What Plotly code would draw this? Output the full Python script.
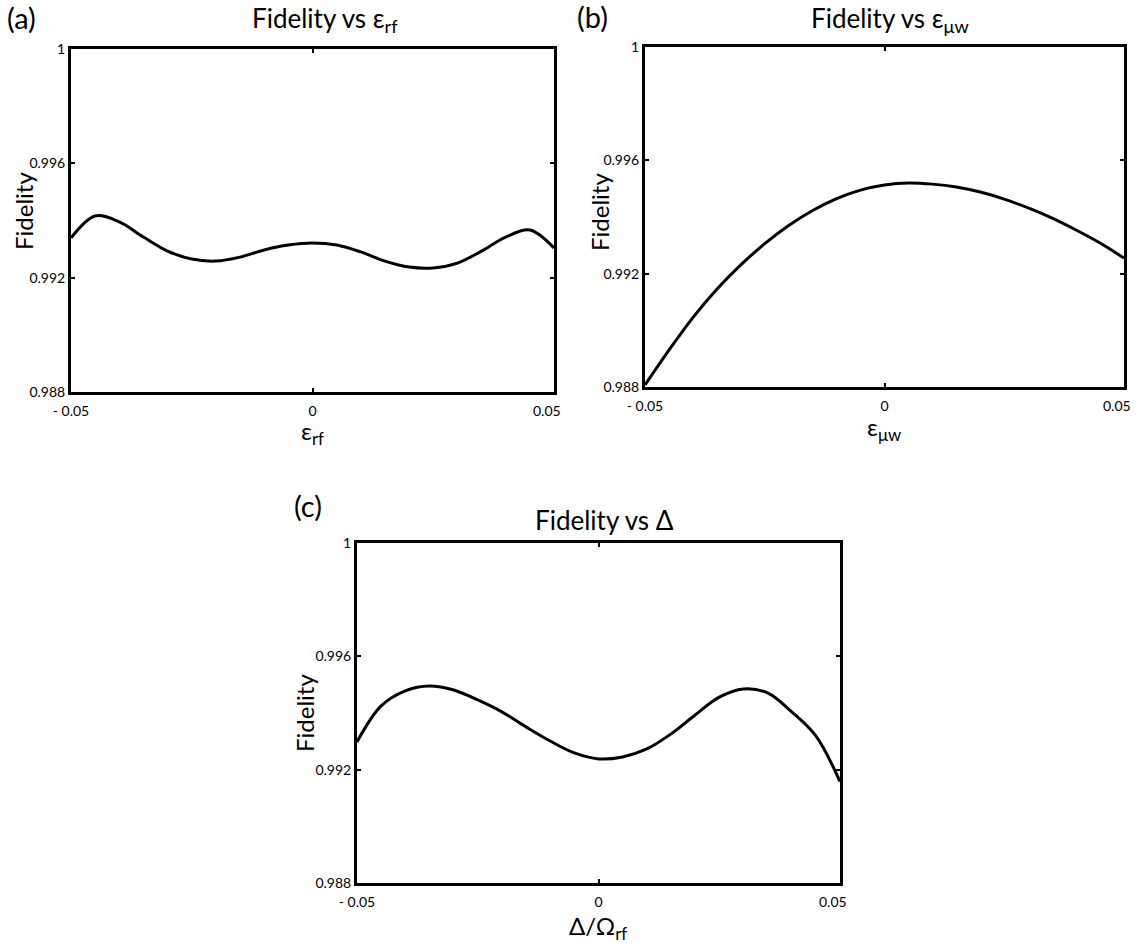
import plotly.graph_objects as go

# ---------------- data ----------------
x_vals = [-0.05, -0.045, -0.04, -0.035, -0.03, -0.025, -0.02, -0.015, -0.01, -0.005,
          0.0, 0.005, 0.01, 0.015, 0.02, 0.025, 0.03, 0.035, 0.04, 0.045, 0.05]

fid_rf = [0.99339, 0.99416, 0.99395, 0.99342, 0.99293, 0.99265, 0.99258, 0.99272, 0.99297, 0.99314,
          0.99321, 0.99314, 0.99290, 0.99258, 0.99237, 0.99234, 0.99251, 0.99293, 0.99342, 0.99367, 0.99304]

fid_mw = [0.98807, 0.98930, 0.99045, 0.99145, 0.99231, 0.99306, 0.99370, 0.99423, 0.99465, 0.99495,
          0.99513, 0.99520, 0.99516, 0.99506, 0.99488, 0.99463, 0.99432, 0.99396, 0.99354, 0.99308, 0.99255]

fid_delta = [0.99298, 0.99425, 0.99478, 0.99495, 0.99481, 0.99446, 0.99404, 0.99351, 0.99301, 0.99259,
             0.99238, 0.99245, 0.99273, 0.99326, 0.99393, 0.99456, 0.99485, 0.99471, 0.99404, 0.99319, 0.99158]

x_tickvals = [-0.05, 0, 0.05]
x_ticktext = ["- 0.05", "0", "0.05\u00a0\u00a0\u00a0\u00a0"]
y_tickvals = [0.988, 0.992, 0.996, 1.0]
y_ticktext = ["0.988", "0.992", "0.996", "1"]

panel_titles = ["Fidelity vs ε<sub>rf</sub>", "Fidelity vs ε<sub>μw</sub>", "Fidelity vs Δ"]
x_titles = ["ε<sub>rf</sub>", "ε<sub>μw</sub>", "Δ/Ω<sub>rf</sub>"]
panel_labels = ["(a)", "(b)", "(c)"]

# ---------------- layout geometry (pixels) ----------------
W, H = 1136, 948
boxes = [(71, 554, 49, 392), (645, 1124, 47, 387), (357, 840, 543, 883)]

FONT = "Lato, Open Sans, sans-serif"

fig = go.Figure()
series = [fid_rf, fid_mw, fid_delta]

def px_x(p):
    return p / W

def px_y(p):
    return 1 - p / H

for i, (ys, (l, r, t, b)) in enumerate(zip(series, boxes)):
    suffix = "" if i == 0 else str(i + 1)
    fig.add_trace(go.Scatter(x=x_vals, y=ys, mode="lines",
                             line=dict(color="black", width=3, shape="spline", smoothing=1.0),
                             xaxis="x" + suffix, yaxis="y" + suffix, showlegend=False,
                             hoverinfo="skip", cliponaxis=False))
    axis_common = dict(showline=True, linecolor="black", linewidth=3, mirror="ticks",
                       ticks="inside", ticklen=4, tickwidth=2, tickcolor="black",
                       showgrid=False, zeroline=False, automargin=False,
                       ticklabeloverflow="allow",
                       tickfont=dict(family=FONT, size=14, color="black"))
    fig.layout["xaxis" + suffix] = dict(domain=[px_x(l), px_x(r)], range=[-0.05, 0.05],
                                        tickvals=x_tickvals, ticktext=x_ticktext,
                                        ticklabelstandoff=4,
                                        anchor="y" + suffix, **axis_common)
    fig.layout["yaxis" + suffix] = dict(domain=[px_y(b), px_y(t)], range=[0.988, 1.0],
                                        tickvals=y_tickvals, ticktext=y_ticktext,
                                        anchor="x" + suffix, **axis_common)

annots = []
title_pos = [(325, 20), (890, 20), (604, 520)]
xt_pos = [(312, 433), (884, 429), (598, 927)]
yt_pos = [(23, 211), (600, 212), (304, 713)]
lab_pos = [(21, 18), (592, 17), (308, 505)]
for i in range(3):
    annots.append(dict(text=panel_titles[i], x=px_x(title_pos[i][0]), y=px_y(title_pos[i][1]),
                       xref="paper", yref="paper", showarrow=False, xanchor="center", yanchor="middle",
                       font=dict(family=FONT, size=26, color="black")))
    annots.append(dict(text=x_titles[i], x=px_x(xt_pos[i][0]), y=px_y(xt_pos[i][1]),
                       xref="paper", yref="paper", showarrow=False, xanchor="center", yanchor="middle",
                       font=dict(family=FONT, size=24, color="black")))
    annots.append(dict(text="Fidelity", x=px_x(yt_pos[i][0]), y=px_y(yt_pos[i][1]), textangle=-90,
                       xref="paper", yref="paper", showarrow=False, xanchor="center", yanchor="middle",
                       font=dict(family=FONT, size=24, color="black")))
    annots.append(dict(text=panel_labels[i], x=px_x(lab_pos[i][0]), y=px_y(lab_pos[i][1]),
                       xref="paper", yref="paper", showarrow=False, xanchor="center", yanchor="middle",
                       font=dict(family=FONT, size=29, color="black")))

fig.update_layout(width=W, height=H, margin=dict(l=0, r=0, t=0, b=0, autoexpand=False),
                  paper_bgcolor="white", plot_bgcolor="white", annotations=annots)

fig.write_html("out.html", config={"displayModeBar": False},
               post_script="document.body.style.margin='0';document.body.style.padding='0';")
